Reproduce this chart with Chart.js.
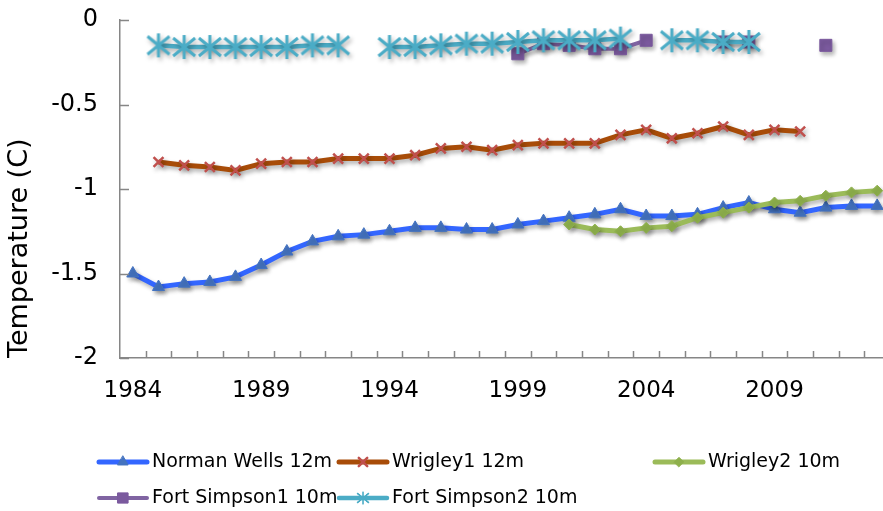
<!DOCTYPE html>
<html>
<head>
<meta charset="utf-8">
<script src="https://cdn.jsdelivr.net/npm/chart.js@4/dist/chart.umd.min.js"></script>
<style>
  html, body { margin: 0; padding: 0; background: #fff; overflow: hidden; }
  #wrap { width: 883px; height: 511px; overflow: hidden; }
</style>
</head>
<body>
<div id="wrap"><canvas id="tempChart" width="900" height="511"></canvas></div>
<script>
"use strict";

// data
const years = [1984, 1985, 1986, 1987, 1988, 1989, 1990, 1991, 1992, 1993,
               1994, 1995, 1996, 1997, 1998, 1999, 2000, 2001, 2002, 2003,
               2004, 2005, 2006, 2007, 2008, 2009, 2010, 2011, 2012, 2013];

const yearLabels = [1984, 1989, 1994, 1999, 2004, 2009];
const tempTicks = [0, -0.5, -1, -1.5, -2];

const normanWells = [-1.50, -1.58, -1.56, -1.55, -1.52, -1.45, -1.37, -1.31, -1.28, -1.27,
                     -1.25, -1.23, -1.23, -1.24, -1.24, -1.21, -1.19, -1.17, -1.15, -1.12,
                     -1.16, -1.16, -1.15, -1.11, -1.08, -1.12, -1.14, -1.11, -1.10, -1.10];

const wrigley1 = [null, -0.84, -0.86, -0.87, -0.89, -0.85, -0.84, -0.84, -0.82, -0.82,
                  -0.82, -0.80, -0.76, -0.75, -0.77, -0.74, -0.73, -0.73, -0.73, -0.68,
                  -0.65, -0.70, -0.67, -0.63, -0.68, -0.65, -0.66, null, null, null];

const wrigley2 = [null, null, null, null, null, null, null, null, null, null,
                  null, null, null, null, null, null, null, -1.21, -1.24, -1.25,
                  -1.23, -1.22, -1.17, -1.14, -1.11, -1.08, -1.07, -1.04, -1.02, -1.01];

const fortSimpson1 = [null, null, null, null, null, null, null, null, null, null,
                      null, null, null, null, null, -0.20, -0.14, -0.15, -0.17, -0.17,
                      -0.12, null, null, -0.13, -0.13, null, null, -0.15, null, null];

const fortSimpson2 = [null, -0.15, -0.16, -0.16, -0.16, -0.16, -0.16, -0.15, -0.15, null,
                      -0.16, -0.16, -0.15, -0.14, -0.14, -0.13, -0.12, -0.12, -0.12, -0.11,
                      null, -0.12, -0.12, -0.13, -0.13, null, null, null, null, null];

// asterisk marker (excel style: vertical bar + x)
function asterisk(color) {
  let c = document.createElement('canvas');
  c.width = 26;
  c.height = 26;
  let g = c.getContext('2d');
  g.strokeStyle = color;
  g.lineWidth = 3;
  g.beginPath();
  g.moveTo(13, 1); g.lineTo(13, 25);
  g.moveTo(2, 4); g.lineTo(24, 22);
  g.moveTo(24, 4); g.lineTo(2, 22);
  g.stroke();
  return c;
}
const starMarker = asterisk('#4BACC6');

// drop shadow under the series
const shadowPlugin = {
  id: 'shadow',
  beforeDatasetsDraw(chart) {
    let ctx = chart.ctx;
    ctx.save();
    ctx.shadowColor = 'rgba(0,0,0,0.30)';
    ctx.shadowBlur = 4;
    ctx.shadowOffsetX = 2;
    ctx.shadowOffsetY = 3;
  },
  afterDatasetsDraw(chart) {
    chart.ctx.restore();
  }
};

// tick marks pointing into the plot
const innerTicks = {
  id: 'innerTicks',
  afterDraw(chart) {
    let ctx = chart.ctx;
    let area = chart.chartArea;
    let x = chart.scales.x;
    let y = chart.scales.y;
    ctx.save();
    ctx.strokeStyle = '#868686';
    ctx.lineWidth = 1.5;
    ctx.beginPath();
    tempTicks.forEach(v => {
      let py = Math.round(y.getPixelForValue(v)) + 0.5;
      ctx.moveTo(area.left, py);
      ctx.lineTo(area.left + 9, py);
    });
    let w = (x.getPixelForValue(1) - x.getPixelForValue(0));
    for (let i = 1; i < years.length; i++) {
      let px = Math.round(x.getPixelForValue(i) - w / 2) + 0.5;
      ctx.moveTo(px, area.bottom);
      ctx.lineTo(px, area.bottom - 7);
    }
    ctx.stroke();
    ctx.restore();
  }
};

// legend laid out in excel-like columns
const gridLegend = {
  id: 'gridLegend',
  afterDraw(chart) {
    let ctx = chart.ctx;
    let cols = [99, 339, 655];
    let rows = [462, 498];
    ctx.save();
    chart.data.datasets.forEach((ds, i) => {
      let lx = cols[i % 3];
      let ly = rows[Math.floor(i / 3)];
      ctx.strokeStyle = ds.borderColor;
      ctx.lineWidth = ds.borderWidth;
      ctx.lineCap = 'round';
      ctx.beginPath();
      ctx.moveTo(lx, ly);
      ctx.lineTo(lx + 48, ly);
      ctx.stroke();
      ctx.fillStyle = ds.pointBackgroundColor;
      ctx.strokeStyle = ds.pointBorderColor;
      ctx.lineWidth = ds.pointBorderWidth;
      if (ds.pointStyle instanceof HTMLCanvasElement) {
        ctx.drawImage(ds.pointStyle, lx + 24 - 7, ly - 7, 14, 14);
      } else {
        Chart.helpers.drawPoint(ctx, {
          pointStyle: ds.pointStyle,
          radius: ds.pointRadius * 0.85,
          borderWidth: ds.pointBorderWidth,
          rotation: 0
        }, lx + 24, ly);
      }
      ctx.fillStyle = '#000';
      ctx.font = '19px "DejaVu Sans"';
      ctx.textBaseline = 'middle';
      ctx.textAlign = 'left';
      ctx.fillText(ds.label, lx + 53, ly);
    });
    ctx.restore();
  }
};

const ctx = document.getElementById('tempChart');

new Chart(ctx, {
  type: 'line',
  data: {
    labels: years,
    datasets: [
      {
        label: 'Norman Wells 12m',
        data: normanWells,
        borderColor: '#3366FF',
        borderWidth: 5,
        pointStyle: 'triangle',
        pointRadius: 7,
        pointBackgroundColor: '#4473C0',
        pointBorderColor: '#4473C0',
        pointBorderWidth: 1,
        order: 4
      },
      {
        label: 'Wrigley1 12m',
        data: wrigley1,
        borderColor: '#A84C08',
        borderWidth: 5,
        pointStyle: 'crossRot',
        pointRadius: 7,
        pointBackgroundColor: '#C0504D',
        pointBorderColor: '#C0504D',
        pointBorderWidth: 2.5,
        order: 3
      },
      {
        label: 'Wrigley2 10m',
        data: wrigley2,
        borderColor: '#9BBB59',
        borderWidth: 5,
        pointStyle: 'rectRot',
        pointRadius: 5.5,
        pointBackgroundColor: '#8EB04C',
        pointBorderColor: '#8EB04C',
        pointBorderWidth: 1,
        order: 2
      },
      {
        label: 'Fort Simpson1 10m',
        data: fortSimpson1,
        borderColor: '#8064A2',
        borderWidth: 4,
        pointStyle: 'rect',
        pointRadius: 8.5,
        pointBackgroundColor: '#7B5A9E',
        pointBorderColor: '#7B5A9E',
        pointBorderWidth: 1,
        order: 1
      },
      {
        label: 'Fort Simpson2 10m',
        data: fortSimpson2,
        borderColor: '#4BACC6',
        borderWidth: 4.5,
        pointStyle: starMarker,
        pointRadius: 11,
        pointBackgroundColor: '#4BACC6',
        pointBorderColor: '#4BACC6',
        pointBorderWidth: 1,
        order: 0
      }
    ]
  },
  options: {
    responsive: false,
    animation: false,
    spanGaps: false,
    layout: {
      autoPadding: false,
      padding: { top: 20, right: 10, bottom: 93, left: 0 }
    },
    plugins: {
      legend: { display: false },
      tooltip: { enabled: false }
    },
    scales: {
      x: {
        type: 'category',
        offset: true,
        grid: { display: false, drawTicks: false, offset: true },
        border: { display: true, color: '#868686', width: 1.5 },
        ticks: {
          autoSkip: false,
          maxRotation: 0,
          padding: 19,
          color: '#000',
          font: { family: 'DejaVu Sans', size: 23 },
          callback: function (value, index) {
            return yearLabels.includes(years[index]) ? String(years[index]) : '';
          }
        },
        afterFit: (scale) => { scale.height = 60; }
      },
      y: {
        min: -2,
        max: 0,
        grid: { display: false, drawTicks: false },
        border: { display: true, color: '#868686', width: 1.5 },
        afterBuildTicks: (scale) => {
          scale.ticks = tempTicks.map(v => ({ value: v }));
        },
        ticks: {
          padding: 22,
          color: '#000',
          font: { family: 'DejaVu Sans', size: 24 },
          callback: (value) => String(value)
        },
        title: {
          display: true,
          text: 'Temperature (C)',
          align: 'start',
          color: '#000',
          padding: { top: 4, bottom: 2 },
          font: { family: 'DejaVu Sans', size: 27 }
        },
        afterFit: (scale) => {
          scale.width = 120;
          // label padding would otherwise push the plot down
          scale.paddingTop = 0;
          scale.paddingBottom = 0;
        }
      }
    }
  },
  plugins: [shadowPlugin, innerTicks, gridLegend]
});
</script>
</body>
</html>
